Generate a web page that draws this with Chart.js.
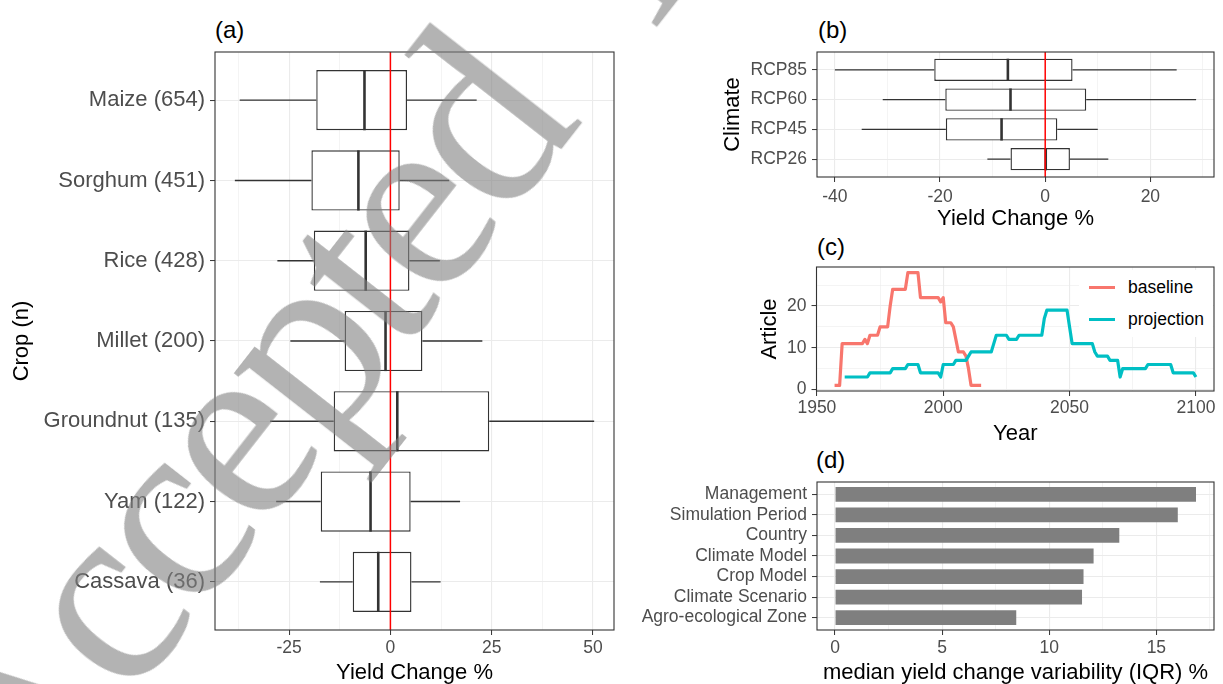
<!DOCTYPE html>
<html>
<head>
<meta charset="utf-8">
<script src="https://cdn.jsdelivr.net/npm/chart.js@4.4.1/dist/chart.umd.min.js"></script>
<style>
  html, body { margin: 0; padding: 0; background: #fff; }
  body { width: 1223px; height: 684px; overflow: hidden; position: relative;
         font-family: "Liberation Sans", Arial, Helvetica, sans-serif; }
  canvas { position: absolute; }
  .tag { position: absolute; font-size: 24px; line-height: 24px; color: #000; }
  #legendC { position: absolute; left: 1079px; top: 270px; width: 134px; height: 67px; background: #fff; }
  #legendC .row { position: absolute; left: 10px; height: 22px; line-height: 22px; font-size: 17.5px; color: #000; }
  #legendC .key { position: absolute; left: 0; top: 9.5px; width: 26px; height: 3.5px; }
  #legendC .lab { position: absolute; left: 39px; top: 0; white-space: nowrap; }
  #mark { position: absolute; left: 0; top: 0; pointer-events: none; }
  #mark text { letter-spacing: -10px; word-spacing: 65px; }
</style>
</head>
<body>
<div class="tag" style="left:215px;top:18px">(a)</div>
<div class="tag" style="left:818px;top:18px">(b)</div>
<div class="tag" style="left:817px;top:235px">(c)</div>
<div class="tag" style="left:816px;top:448px">(d)</div>

<canvas id="cropChart" width="620" height="652" style="left:0;top:32px"></canvas>
<canvas id="climChart" width="522" height="198" style="left:700px;top:32px"></canvas>
<canvas id="yearChart" width="483" height="198" style="left:740px;top:247px"></canvas>
<canvas id="iqrChart" width="593" height="222" style="left:630px;top:462px"></canvas>

<div id="legendC">
  <div class="row" style="top:6px"><span class="key" style="background:#F8766D"></span><span class="lab">baseline</span></div>
  <div class="row" style="top:38px"><span class="key" style="background:#00BFC4"></span><span class="lab">projection</span></div>
</div>

<svg id="mark" width="1223" height="684">
  <text x="18.3" y="844.2" transform="rotate(-52 18.3 844.2)" font-family="Liberation Serif, Times New Roman, serif"
        font-size="262" fill="#808080" fill-opacity="0.6">Accepted Manuscript</text>
</svg>

<script>
// (a) yield change by crop
const crops = ['Maize (654)', 'Sorghum (451)', 'Rice (428)', 'Millet (200)', 'Groundnut (135)', 'Yam (122)', 'Cassava (36)'];
const cropLow  = [-37.2, -38.4, -27.9, -24.7, -29.7, -28.2, -17.4];
const cropQ1   = [-18.3, -19.5, -18.9, -11.3, -14.0, -17.2, -9.3];
const cropMed  = [-6.4, -7.9, -6.1, -1.2, 1.7, -4.9, -3.0];
const cropQ3   = [4.1, 2.3, 4.7, 7.9, 24.4, 5.0, 5.2];
const cropHigh = [21.3, 14.5, 12.2, 22.7, 50.3, 17.2, 12.4];
const cropTicks = [-25, 0, 25, 50];
const cropMinor = [-37.5, -12.5, 12.5, 37.5];

// (b) yield change by climate scenario
const climates = ['RCP85', 'RCP60', 'RCP45', 'RCP26'];
const climLow  = [-40.0, -30.9, -34.9, -11.0];
const climQ1   = [-21.1, -19.0, -18.9, -6.6];
const climMed  = [-7.1, -6.6, -8.3, 0.1];
const climQ3   = [5.2, 7.8, 2.3, 4.7];
const climHigh = [25.0, 28.7, 10.0, 12.0];
const climTicks = [-40, -20, 0, 20];
const climMinor = [-30, -10, 10, 30];

// (c) number of articles per year
const baseYears = [
  1957, 1958, 1959, 1960, 1961, 1962, 1963, 1964, 1965, 1966,
  1967, 1968, 1969, 1970, 1971, 1972, 1973, 1974, 1975, 1976,
  1977, 1978, 1979, 1980, 1981, 1982, 1983, 1984, 1985, 1986,
  1987, 1988, 1989, 1990, 1991, 1992, 1993, 1994, 1995, 1996,
  1997, 1998, 1999, 2000, 2001, 2002, 2003, 2004, 2005, 2006,
  2007, 2008, 2009, 2010, 2011, 2012, 2013, 2014, 2015];
const baseArticles = [
  1, 1, 1, 11, 11, 11, 11, 11, 11, 11,
  11, 11, 12, 11, 13, 13, 13, 13, 15, 15,
  15, 15, 20, 24, 24, 24, 24, 24, 24, 28,
  28, 28, 28, 28, 22, 22, 22, 22, 22, 22,
  22, 22, 21, 22, 16, 16, 16, 15, 12, 9,
  9, 9, 8, 5, 1, 1, 1, 1, 1];
const projYears = [
  1961, 1962, 1963, 1964, 1965, 1966, 1967, 1968, 1969, 1970,
  1971, 1972, 1973, 1974, 1975, 1976, 1977, 1978, 1979, 1980,
  1981, 1982, 1983, 1984, 1985, 1986, 1987, 1988, 1989, 1990,
  1991, 1992, 1993, 1994, 1995, 1996, 1997, 1998, 1999, 2000,
  2001, 2002, 2003, 2004, 2005, 2006, 2007, 2008, 2009, 2010,
  2011, 2012, 2013, 2014, 2015, 2016, 2017, 2018, 2019, 2020,
  2021, 2022, 2023, 2024, 2025, 2026, 2027, 2028, 2029, 2030,
  2031, 2032, 2033, 2034, 2035, 2036, 2037, 2038, 2039, 2040,
  2041, 2042, 2043, 2044, 2045, 2046, 2047, 2048, 2049, 2050,
  2051, 2052, 2053, 2054, 2055, 2056, 2057, 2058, 2059, 2060,
  2061, 2062, 2063, 2064, 2065, 2066, 2067, 2068, 2069, 2070,
  2071, 2072, 2073, 2074, 2075, 2076, 2077, 2078, 2079, 2080,
  2081, 2082, 2083, 2084, 2085, 2086, 2087, 2088, 2089, 2090,
  2091, 2092, 2093, 2094, 2095, 2096, 2097, 2098, 2099, 2100];
const projArticles = [
  3, 3, 3, 3, 3, 3, 3, 3, 3, 3,
  4, 4, 4, 4, 4, 4, 4, 4, 4, 5,
  5, 5, 5, 5, 5, 6, 6, 6, 6, 6,
  4, 4, 4, 4, 4, 4, 4, 4, 3, 6,
  6, 6, 6, 6, 7, 7, 7, 7, 7, 8,
  9, 9, 9, 9, 9, 9, 9, 9, 9, 11,
  13, 13, 13, 13, 13, 12, 12, 12, 12, 13,
  13, 13, 13, 13, 13, 13, 13, 13, 13, 17,
  19, 19, 19, 19, 19, 19, 19, 19, 19, 15,
  11, 11, 11, 11, 11, 11, 11, 11, 11, 9,
  8, 8, 8, 8, 8, 7, 7, 7, 7, 3,
  5, 5, 5, 5, 5, 5, 5, 5, 5, 5,
  6, 6, 6, 6, 6, 6, 6, 6, 6, 6,
  4, 4, 4, 4, 4, 4, 4, 4, 4, 3];
const yearTicks = [1950, 2000, 2050, 2100];
const yearMinor = [1975, 2025, 2075];
const articleTicks = [0, 10, 20];
const articleMinor = [5, 15, 25];

// (d) median IQR per factor
const factors = ['Management', 'Simulation Period', 'Country', 'Climate Model', 'Crop Model', 'Climate Scenario', 'Agro-ecological Zone'];
const iqrValues = [16.85, 16.0, 13.27, 12.07, 11.6, 11.53, 8.46];
const iqrTicks = [0, 5, 10, 15];
const iqrMinor = [2.5, 7.5, 12.5, 17.5];

Chart.defaults.font.family = '"Liberation Sans", Arial, Helvetica, sans-serif';
Chart.defaults.color = '#4d4d4d';
Chart.defaults.animation = false;

const tickFont = { size: 17.5 };
const titleFont = { size: 22, lineHeight: 1 };

function gridFor(major) {
  return {
    color: '#ebebeb',
    lineWidth: c => major.includes(c.tick.value) ? 1.1 : 0.55,
    tickColor: c => major.includes(c.tick.value) ? '#333333' : 'rgba(0,0,0,0)',
    tickLength: 5,
    tickWidth: 1,
    offset: false
  };
}

// value axis with major + minor grid lines, labels only on majors
function valueAxis(min, max, major, minor, width, height, title, pad) {
  const all = major.concat(minor).sort((a, b) => a - b);
  return {
    type: 'linear', min: min, max: max,
    afterBuildTicks: s => { s.ticks = all.map(v => ({ value: v })); },
    afterFit: s => { if (width !== null) s.width = width; if (height !== null) s.height = height; },
    ticks: { font: tickFont, color: '#4d4d4d', autoSkip: false, maxRotation: 0, padding: pad,
             callback: v => major.includes(v) ? String(v) : '' },
    grid: gridFor(major),
    border: { display: false },
    title: title
  };
}

// discrete axis drawn as a reversed linear scale so it can use ggplot's 0.6 expansion
function groupAxis(names, width, font, title) {
  const idx = names.map((_, i) => i);
  return {
    type: 'linear', reverse: true, min: -0.6, max: names.length - 0.4, offset: false,
    afterBuildTicks: s => { s.ticks = idx.map(v => ({ value: v })); },
    afterFit: s => { s.width = width; },
    ticks: { font: font, color: '#4d4d4d', autoSkip: false, padding: 5, callback: v => names[v] },
    grid: gridFor(idx),
    border: { display: false },
    title: title
  };
}

const panelFrame = {
  id: 'panelFrame',
  afterDraw(chart) {
    const { ctx, chartArea: a } = chart;
    ctx.save();
    ctx.strokeStyle = '#333333';
    ctx.lineWidth = 1.1;
    ctx.strokeRect(a.left, a.top, a.right - a.left, a.bottom - a.top);
    ctx.restore();
  }
};

// whiskers, medians and the red zero line on top of the floating-bar boxes
function boxParts(low, q1, med, q3, high) {
  return {
    id: 'boxParts',
    afterDatasetsDraw(chart) {
      const { ctx, chartArea, scales: { x, y } } = chart;
      const bars = chart.getDatasetMeta(0).data;
      ctx.save();
      ctx.strokeStyle = '#333333';
      low.forEach((lo, i) => {
        const yc = y.getPixelForValue(i);
        const half = bars[i].height / 2;
        ctx.lineWidth = 1.4;
        ctx.beginPath();
        ctx.moveTo(x.getPixelForValue(lo), yc);
        ctx.lineTo(x.getPixelForValue(q1[i]), yc);
        ctx.moveTo(x.getPixelForValue(q3[i]), yc);
        ctx.lineTo(x.getPixelForValue(high[i]), yc);
        ctx.stroke();
        const xm = x.getPixelForValue(med[i]);
        ctx.lineWidth = 2.6;
        ctx.beginPath();
        ctx.moveTo(xm, yc - half);
        ctx.lineTo(xm, yc + half);
        ctx.stroke();
      });
      const x0 = x.getPixelForValue(0);
      ctx.strokeStyle = '#ff0000';
      ctx.lineWidth = 1.5;
      ctx.beginPath();
      ctx.moveTo(x0, chartArea.top);
      ctx.lineTo(x0, chartArea.bottom);
      ctx.stroke();
      ctx.restore();
    }
  };
}

function boxChart(id, names, low, q1, med, q3, high, xCfg, yCfg, padding) {
  return new Chart(document.getElementById(id), {
    type: 'bar',
    data: {
      datasets: [{
        data: names.map((_, i) => ({ y: i, x: [q1[i], q3[i]] })),
        backgroundColor: '#ffffff',
        borderColor: '#333333',
        borderWidth: 1.4,
        borderSkipped: false,
        categoryPercentage: 0.75,
        barPercentage: 1
      }]
    },
    options: {
      indexAxis: 'y',
      responsive: false,
      layout: { padding: padding },
      plugins: { legend: { display: false }, tooltip: { enabled: false } },
      scales: { x: xCfg, y: yCfg }
    },
    plugins: [boxParts(low, q1, med, q3, high), panelFrame]
  });
}

boxChart('cropChart', crops, cropLow, cropQ1, cropMed, cropQ3, cropHigh,
  valueAxis(-43.3, 55.2, cropTicks, cropMinor, null, 54,
    { display: true, text: 'Yield Change %', color: '#000', font: titleFont, padding: { top: 0, bottom: 0 } }, 3),
  groupAxis(crops, 215, { size: 22 },
    { display: true, text: 'Crop (n)', color: '#000', font: titleFont, padding: { top: 11, bottom: 0 } }),
  { top: 20, left: 0, right: 6, bottom: 0 });

boxChart('climChart', climates, climLow, climQ1, climMed, climQ3, climHigh,
  valueAxis(-43.4, 32.1, climTicks, climMinor, null, 53,
    { display: true, text: 'Yield Change %', color: '#000', font: titleFont, padding: { top: 0, bottom: 0 } }, 5),
  groupAxis(climates, 117, tickFont,
    { display: true, text: 'Climate', color: '#000', font: titleFont, padding: { top: 22, bottom: 0 } }),
  { top: 20, left: 0, right: 8, bottom: 0 });

new Chart(document.getElementById('yearChart'), {
  type: 'line',
  data: {
    datasets: [{
      label: 'baseline',
      data: baseYears.map((yr, i) => ({ x: yr, y: baseArticles[i] })),
      borderColor: '#F8766D',
      borderWidth: 3.2,
      pointRadius: 0,
      borderJoinStyle: 'round',
      order: 1
    }, {
      label: 'projection',
      data: projYears.map((yr, i) => ({ x: yr, y: projArticles[i] })),
      borderColor: '#00BFC4',
      borderWidth: 3.2,
      pointRadius: 0,
      borderJoinStyle: 'round',
      order: 0
    }]
  },
  options: {
    responsive: false,
    layout: { padding: { top: 20, left: 0, right: 9, bottom: 0 } },
    plugins: { legend: { display: false }, tooltip: { enabled: false } },
    scales: {
      x: valueAxis(1949.85, 2107.15, yearTicks, yearMinor, null, 54,
        { display: true, text: 'Year', color: '#000', font: titleFont, padding: { top: 0, bottom: 0 } }, 2),
      y: valueAxis(-0.35, 29.35, articleTicks, articleMinor, 76.5, null,
        { display: true, text: 'Article', color: '#000', font: titleFont, padding: { top: 19, bottom: 0 } }, 5)
    }
  },
  plugins: [panelFrame]
});

new Chart(document.getElementById('iqrChart'), {
  type: 'bar',
  data: {
    datasets: [{
      data: factors.map((_, i) => ({ y: i, x: iqrValues[i] })),
      backgroundColor: '#7f7f7f',
      borderWidth: 0,
      categoryPercentage: 0.72,
      barPercentage: 1
    }]
  },
  options: {
    indexAxis: 'y',
    responsive: false,
    layout: { padding: { top: 20, left: 0, right: 9, bottom: 0 } },
    plugins: { legend: { display: false }, tooltip: { enabled: false } },
    scales: {
      x: valueAxis(-0.84, 17.69, iqrTicks, iqrMinor, null, 54,
        { display: true, text: 'median yield change variability (IQR) %', color: '#000', font: titleFont, padding: { top: 0, bottom: 0 } }, 3),
      y: groupAxis(factors, 187, tickFont, { display: false })
    }
  },
  plugins: [panelFrame]
});
</script>
</body>
</html>
